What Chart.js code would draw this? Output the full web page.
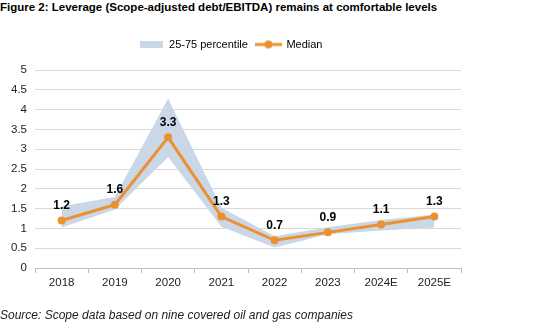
<!DOCTYPE html>
<html>
<head>
<meta charset="utf-8">
<script src="https://cdn.jsdelivr.net/npm/chart.js@4/dist/chart.umd.min.js"></script>
<style>
  body { margin: 0; background: #fff; font-family: "Liberation Sans", Arial, sans-serif; }
  #wrap { position: relative; width: 550px; height: 326px; }
  #title { position: absolute; left: 0; top: 1px; font-weight: bold; font-size: 11.5px; color: #000; white-space: nowrap; }
  #source { position: absolute; left: 0; top: 308px; font-style: italic; font-size: 12px; color: #222; white-space: nowrap; }
  canvas { position: absolute; left: 0; top: 0; }
</style>
</head>
<body>
<div id="wrap">
  <div id="title">Figure 2: Leverage (Scope-adjusted debt/EBITDA) remains at comfortable levels</div>
  <canvas id="leverageChart" width="550" height="326"></canvas>
  <div id="source">Source: Scope data based on nine covered oil and gas companies</div>
</div>
<script>
// leverage data
const years = ['2018', '2019', '2020', '2021', '2022', '2023', '2024E', '2025E'];
const median = [1.2, 1.6, 3.3, 1.3, 0.7, 0.9, 1.1, 1.3];
const p25 = [1.02, 1.48, 2.8, 1.04, 0.52, 0.85, 0.95, 1.02];
const p75 = [1.56, 1.79, 4.28, 1.52, 0.8, 1.03, 1.21, 1.35];
const yTicks = [0, 0.5, 1, 1.5, 2, 2.5, 3, 3.5, 4, 4.5, 5];

const bandColor = '#c9d7e6';
const orange = '#ec9131';
const fontFamily = '"Liberation Sans", Arial, sans-serif';

// little legend swatches
function bandSwatch() {
  const c = document.createElement('canvas');
  c.width = 23; c.height = 7;
  const ctx = c.getContext('2d');
  ctx.fillStyle = bandColor;
  ctx.fillRect(0, 0, 23, 7);
  return c;
}
function medianSwatch() {
  const c = document.createElement('canvas');
  c.width = 27; c.height = 10;
  const ctx = c.getContext('2d');
  ctx.strokeStyle = orange;
  ctx.lineWidth = 3;
  ctx.beginPath();
  ctx.moveTo(0, 5);
  ctx.lineTo(27, 5);
  ctx.stroke();
  ctx.fillStyle = orange;
  ctx.beginPath();
  ctx.arc(13.5, 5, 4, 0, Math.PI * 2);
  ctx.fill();
  return c;
}

// extra room under the legend
const legendGap = {
  id: 'legendGap',
  beforeInit(chart) {
    const fit = chart.legend.fit;
    chart.legend.fit = function () {
      fit.bind(chart.legend)();
      this.height += 10;
    };
  }
};

// value labels above the median points
const medianLabels = {
  id: 'medianLabels',
  afterDatasetsDraw(chart) {
    const meta = chart.getDatasetMeta(0);
    const ctx = chart.ctx;
    ctx.save();
    ctx.font = 'bold 12px ' + fontFamily;
    ctx.fillStyle = '#000';
    ctx.textAlign = 'center';
    ctx.textBaseline = 'middle';
    meta.data.forEach((pt, i) => {
      ctx.fillText(median[i].toFixed(1), pt.x, pt.y - 15);
    });
    ctx.restore();
  }
};

const el = document.getElementById('leverageChart');
new Chart(el, {
  type: 'line',
  data: {
    labels: years,
    datasets: [{
      label: 'Median',
      data: median,
      borderColor: orange,
      backgroundColor: orange,
      borderWidth: 3,
      pointRadius: 4,
      pointBorderWidth: 0,
      fill: false,
      tension: 0
    }, {
      label: 'p25',
      data: p25,
      borderWidth: 0,
      borderColor: 'rgba(0,0,0,0)',
      pointRadius: 0,
      fill: false,
      tension: 0
    }, {
      label: '25-75 percentile',
      data: p75,
      borderWidth: 0,
      borderColor: 'rgba(0,0,0,0)',
      backgroundColor: bandColor,
      pointRadius: 0,
      fill: '-1',
      tension: 0
    }]
  },
  options: {
    responsive: false,
    animation: false,
    layout: { padding: { top: 31, right: 89, bottom: 38, left: 0 } },
    plugins: {
      tooltip: { enabled: false },
      legend: {
        position: 'top',
        labels: {
          usePointStyle: true,
          pointStyleWidth: 25,
          padding: 8,
          color: '#222',
          font: { size: 11, family: fontFamily },
          generateLabels() {
            return [
              { text: '25-75 percentile', pointStyle: bandSwatch(), fillStyle: bandColor, strokeStyle: bandColor, lineWidth: 0, datasetIndex: 2 },
              { text: 'Median', pointStyle: medianSwatch(), fillStyle: orange, strokeStyle: orange, lineWidth: 0, datasetIndex: 0 }
            ];
          }
        }
      }
    },
    scales: {
      x: {
        offset: true,
        grid: { offset: true, drawOnChartArea: false, tickLength: 5, color: '#bfbfbf' },
        border: { color: '#bfbfbf' },
        ticks: { padding: 3, color: '#222', font: { size: 11.5, family: fontFamily } },
        afterFit(scale) { scale.height = 20; }
      },
      y: {
        min: 0,
        max: 5,
        afterBuildTicks(scale) { scale.ticks = yTicks.map(v => ({ value: v })); },
        grid: { color: '#d9d9d9', drawTicks: false },
        border: { display: false },
        ticks: {
          padding: 8,
          color: '#222',
          font: { size: 11.5, family: fontFamily },
          callback: (v) => String(v)
        },
        afterFit(scale) { scale.width = 35; }
      }
    }
  },
  plugins: [legendGap, medianLabels]
});
</script>
</body>
</html>
